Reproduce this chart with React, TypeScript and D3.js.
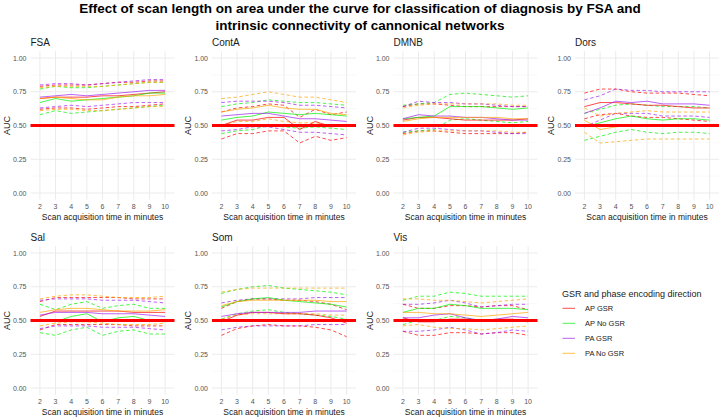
import React from "react";
import * as d3 from "d3";

const minutes = ["2", "3", "4", "5", "6", "7", "8", "9", "10"];
const groups = ["AP GSR", "AP No GSR", "PA GSR", "PA No GSR"];
const groupColors = ["#ff0000", "#00f000", "#a020f0", "#ffa500"];
const networks = ["FSA", "ContA", "DMNB", "Dors", "Sal", "Som", "Vis"];
const yTicks = [0, 0.25, 0.5, 0.75, 1];
const yMinor = [0.125, 0.375, 0.625, 0.875];

// each network: rows in group order (AP GSR, AP No GSR, PA GSR, PA No GSR)
const fsaMean = [
  [0.70, 0.71, 0.71, 0.71, 0.72, 0.72, 0.73, 0.74, 0.75],
  [0.67, 0.70, 0.68, 0.69, 0.70, 0.71, 0.72, 0.74, 0.74],
  [0.71, 0.72, 0.73, 0.72, 0.73, 0.74, 0.75, 0.76, 0.76],
  [0.70, 0.71, 0.70, 0.69, 0.69, 0.71, 0.72, 0.72, 0.73],
];
const fsaUpper = [
  [0.79, 0.80, 0.80, 0.80, 0.81, 0.82, 0.82, 0.83, 0.83],
  [0.77, 0.79, 0.78, 0.78, 0.79, 0.80, 0.81, 0.82, 0.82],
  [0.80, 0.81, 0.81, 0.80, 0.81, 0.82, 0.83, 0.84, 0.84],
  [0.78, 0.79, 0.79, 0.79, 0.79, 0.80, 0.81, 0.82, 0.82],
];
const fsaLower = [
  [0.62, 0.63, 0.63, 0.62, 0.63, 0.64, 0.64, 0.65, 0.66],
  [0.58, 0.61, 0.59, 0.60, 0.61, 0.62, 0.63, 0.64, 0.65],
  [0.63, 0.64, 0.65, 0.64, 0.65, 0.66, 0.67, 0.67, 0.67],
  [0.61, 0.62, 0.62, 0.61, 0.61, 0.62, 0.63, 0.64, 0.64],
];

const contMean = [
  [0.50, 0.54, 0.54, 0.56, 0.56, 0.47, 0.53, 0.49, 0.50],
  [0.54, 0.56, 0.57, 0.60, 0.59, 0.58, 0.59, 0.58, 0.57],
  [0.57, 0.58, 0.59, 0.59, 0.57, 0.55, 0.55, 0.54, 0.53],
  [0.60, 0.62, 0.63, 0.65, 0.63, 0.62, 0.62, 0.59, 0.58],
];
const contUpper = [
  [0.60, 0.63, 0.64, 0.66, 0.65, 0.56, 0.62, 0.58, 0.60],
  [0.64, 0.66, 0.67, 0.69, 0.68, 0.67, 0.67, 0.66, 0.65],
  [0.67, 0.68, 0.68, 0.68, 0.67, 0.65, 0.65, 0.64, 0.63],
  [0.70, 0.71, 0.73, 0.75, 0.73, 0.71, 0.71, 0.69, 0.67],
];
const contLower = [
  [0.40, 0.44, 0.44, 0.46, 0.46, 0.37, 0.42, 0.39, 0.41],
  [0.44, 0.46, 0.47, 0.50, 0.49, 0.48, 0.49, 0.48, 0.47],
  [0.46, 0.47, 0.49, 0.49, 0.47, 0.45, 0.45, 0.44, 0.43],
  [0.50, 0.53, 0.53, 0.55, 0.53, 0.52, 0.52, 0.50, 0.49],
];

const dmnMean = [
  [0.54, 0.56, 0.56, 0.55, 0.54, 0.54, 0.54, 0.54, 0.55],
  [0.55, 0.56, 0.57, 0.64, 0.64, 0.64, 0.63, 0.62, 0.63],
  [0.55, 0.58, 0.57, 0.57, 0.56, 0.56, 0.55, 0.54, 0.54],
  [0.53, 0.55, 0.56, 0.56, 0.56, 0.56, 0.56, 0.55, 0.55],
];
const dmnUpper = [
  [0.64, 0.66, 0.66, 0.65, 0.64, 0.64, 0.64, 0.64, 0.64],
  [0.65, 0.66, 0.67, 0.73, 0.74, 0.73, 0.72, 0.71, 0.72],
  [0.64, 0.68, 0.67, 0.67, 0.66, 0.66, 0.65, 0.64, 0.64],
  [0.63, 0.65, 0.66, 0.66, 0.66, 0.66, 0.66, 0.65, 0.65],
];
const dmnLower = [
  [0.44, 0.46, 0.46, 0.45, 0.44, 0.44, 0.44, 0.44, 0.45],
  [0.45, 0.46, 0.47, 0.54, 0.55, 0.54, 0.53, 0.52, 0.53],
  [0.45, 0.48, 0.48, 0.47, 0.46, 0.46, 0.45, 0.44, 0.44],
  [0.43, 0.45, 0.46, 0.46, 0.46, 0.46, 0.46, 0.45, 0.45],
];

const dorsMean = [
  [0.64, 0.67, 0.67, 0.66, 0.65, 0.65, 0.64, 0.63, 0.63],
  [0.49, 0.52, 0.55, 0.57, 0.55, 0.54, 0.55, 0.55, 0.54],
  [0.59, 0.63, 0.68, 0.67, 0.68, 0.66, 0.66, 0.66, 0.65],
  [0.54, 0.47, 0.49, 0.50, 0.50, 0.50, 0.50, 0.50, 0.50],
];
const dorsUpper = [
  [0.74, 0.77, 0.77, 0.75, 0.74, 0.74, 0.74, 0.73, 0.72],
  [0.59, 0.62, 0.65, 0.66, 0.65, 0.64, 0.64, 0.64, 0.63],
  [0.69, 0.72, 0.77, 0.76, 0.76, 0.75, 0.75, 0.75, 0.75],
  [0.63, 0.57, 0.59, 0.60, 0.61, 0.60, 0.60, 0.60, 0.60],
];
const dorsLower = [
  [0.55, 0.58, 0.59, 0.57, 0.56, 0.56, 0.55, 0.54, 0.53],
  [0.39, 0.42, 0.45, 0.47, 0.45, 0.44, 0.45, 0.45, 0.44],
  [0.49, 0.54, 0.59, 0.59, 0.59, 0.57, 0.57, 0.57, 0.56],
  [0.45, 0.37, 0.38, 0.39, 0.40, 0.40, 0.40, 0.40, 0.40],
];

const salMean = [
  [0.53, 0.57, 0.57, 0.57, 0.57, 0.57, 0.56, 0.56, 0.56],
  [0.51, 0.49, 0.53, 0.55, 0.49, 0.52, 0.53, 0.50, 0.49],
  [0.54, 0.56, 0.56, 0.56, 0.55, 0.55, 0.55, 0.54, 0.53],
  [0.56, 0.58, 0.59, 0.59, 0.58, 0.57, 0.57, 0.57, 0.58],
];
const salUpper = [
  [0.64, 0.67, 0.67, 0.67, 0.67, 0.67, 0.66, 0.66, 0.66],
  [0.62, 0.58, 0.62, 0.64, 0.59, 0.61, 0.62, 0.59, 0.59],
  [0.65, 0.66, 0.66, 0.66, 0.65, 0.65, 0.65, 0.64, 0.63],
  [0.66, 0.68, 0.69, 0.69, 0.68, 0.67, 0.67, 0.67, 0.68],
];
const salLower = [
  [0.43, 0.47, 0.47, 0.47, 0.47, 0.47, 0.46, 0.46, 0.46],
  [0.41, 0.39, 0.43, 0.45, 0.39, 0.42, 0.43, 0.40, 0.40],
  [0.44, 0.46, 0.46, 0.46, 0.45, 0.45, 0.45, 0.44, 0.43],
  [0.46, 0.48, 0.49, 0.49, 0.48, 0.47, 0.47, 0.47, 0.48],
];

const somMean = [
  [0.49, 0.54, 0.56, 0.56, 0.55, 0.55, 0.54, 0.52, 0.48],
  [0.60, 0.64, 0.66, 0.67, 0.65, 0.64, 0.63, 0.62, 0.60],
  [0.53, 0.55, 0.56, 0.56, 0.56, 0.56, 0.57, 0.57, 0.57],
  [0.61, 0.64, 0.65, 0.65, 0.65, 0.65, 0.65, 0.64, 0.64],
];
const somUpper = [
  [0.59, 0.64, 0.66, 0.66, 0.65, 0.65, 0.64, 0.62, 0.58],
  [0.70, 0.73, 0.75, 0.76, 0.74, 0.73, 0.72, 0.71, 0.69],
  [0.63, 0.65, 0.66, 0.66, 0.66, 0.66, 0.67, 0.67, 0.67],
  [0.71, 0.73, 0.74, 0.74, 0.74, 0.74, 0.74, 0.74, 0.74],
];
const somLower = [
  [0.39, 0.44, 0.46, 0.47, 0.46, 0.46, 0.45, 0.43, 0.38],
  [0.51, 0.55, 0.57, 0.58, 0.56, 0.55, 0.54, 0.53, 0.51],
  [0.43, 0.45, 0.46, 0.46, 0.46, 0.46, 0.47, 0.47, 0.47],
  [0.51, 0.54, 0.55, 0.55, 0.55, 0.55, 0.55, 0.54, 0.54],
];

const visMean = [
  [0.52, 0.49, 0.49, 0.51, 0.51, 0.50, 0.51, 0.51, 0.49],
  [0.56, 0.59, 0.59, 0.62, 0.61, 0.59, 0.59, 0.59, 0.58],
  [0.52, 0.52, 0.54, 0.55, 0.52, 0.50, 0.51, 0.53, 0.52],
  [0.56, 0.56, 0.55, 0.55, 0.54, 0.53, 0.54, 0.55, 0.56],
];
const visUpper = [
  [0.62, 0.59, 0.59, 0.61, 0.61, 0.60, 0.61, 0.61, 0.58],
  [0.65, 0.68, 0.68, 0.71, 0.70, 0.68, 0.68, 0.68, 0.68],
  [0.62, 0.62, 0.63, 0.65, 0.63, 0.60, 0.61, 0.62, 0.62],
  [0.66, 0.66, 0.65, 0.65, 0.64, 0.63, 0.64, 0.65, 0.66],
];
const visLower = [
  [0.42, 0.39, 0.39, 0.41, 0.41, 0.40, 0.41, 0.41, 0.39],
  [0.47, 0.50, 0.50, 0.53, 0.52, 0.50, 0.50, 0.50, 0.49],
  [0.42, 0.42, 0.43, 0.45, 0.43, 0.40, 0.41, 0.43, 0.42],
  [0.46, 0.47, 0.45, 0.44, 0.44, 0.43, 0.44, 0.45, 0.46],
];

const meanByNet = [fsaMean, contMean, dmnMean, dorsMean, salMean, somMean, visMean];
const upperByNet = [fsaUpper, contUpper, dmnUpper, dorsUpper, salUpper, somUpper, visUpper];
const lowerByNet = [fsaLower, contLower, dmnLower, dorsLower, salLower, somLower, visLower];

const W = 720,
  H = 417;
const colLeft = [30.5, 212, 393.5, 575];
const panelW = 144;
const rowRange = [
  [199.75, 51.25],
  [394.75, 246.25],
];
const font = "Liberation Sans, Arial, sans-serif";

const Panel = ({ idx }: { idx: number }) => {
  const col = idx % 4;
  const row = Math.floor(idx / 4);
  const left = colLeft[col];
  const x = d3
    .scalePoint()
    .domain(minutes)
    .range([left, left + panelW])
    .padding(0.6);
  const y = d3.scaleLinear().domain([-0.05, 1.05]).range(rowRange[row]);
  const top = rowRange[row][1],
    bottom = rowRange[row][0];
  const line = d3
    .line<number>()
    .x((_, i) => x(minutes[i]) as number)
    .y((d) => y(d));

  const solid = meanByNet[idx];
  const upper = upperByNet[idx];
  const lower = lowerByNet[idx];

  return (
    <g>
      {yMinor.map((t) => (
        <line key={"m" + t} x1={left} x2={left + panelW} y1={y(t)} y2={y(t)} stroke="#f2f2f2" strokeWidth={0.5} />
      ))}
      {yTicks.map((t) => (
        <line key={"y" + t} x1={left} x2={left + panelW} y1={y(t)} y2={y(t)} stroke="#ebebeb" strokeWidth={1} />
      ))}
      {minutes.map((m) => (
        <line key={"x" + m} x1={x(m)} x2={x(m)} y1={top} y2={bottom} stroke="#ebebeb" strokeWidth={1} />
      ))}
      {[lower, upper].map((set, k) =>
        set.map((vals, g) => (
          <path
            key={"d" + k + g}
            d={line(vals) || ""}
            fill="none"
            stroke={groupColors[g]}
            strokeOpacity={0.7}
            strokeWidth={1}
            strokeDasharray="3.5,2.5"
          />
        ))
      )}
      {solid.map((vals, g) => (
        <path key={"s" + g} d={line(vals) || ""} fill="none" stroke={groupColors[g]} strokeOpacity={0.7} strokeWidth={1} />
      ))}
      <line x1={left} x2={left + panelW} y1={y(0.5)} y2={y(0.5)} stroke="#ff0000" strokeWidth={3.2} />
      {yTicks.map((t) => (
        <text key={"yl" + t} x={left - 4} y={y(t) + 2.5} textAnchor="end" fontSize={7} fill="#555" fontFamily={font}>
          {d3.format(".2f")(t)}
        </text>
      ))}
      {minutes.map((m) => (
        <text key={"xl" + m} x={x(m)} y={bottom + 9.5} textAnchor="middle" fontSize={7} fill="#555" fontFamily={font}>
          {m}
        </text>
      ))}
      <text
        x={left + panelW / 2}
        y={bottom + 20.5}
        textAnchor="middle"
        fontSize={8.5}
        fill="#1a1a1a"
        fontFamily={font}
      >
        Scan acquisition time in minutes
      </text>
      <text
        transform={`translate(${left - 21},${y(0.5)}) rotate(-90)`}
        textAnchor="middle"
        fontSize={9}
        fill="#1a1a1a"
        fontFamily={font}
      >
        AUC
      </text>
      <text x={left} y={top - 5.5} fontSize={10} fill="#1a1a1a" fontFamily={font}>
        {networks[idx]}
      </text>
    </g>
  );
};

const App = () => {
  const legendY = d3.scalePoint().domain(groups).range([308.3, 353.3]);
  return (
    <svg width={W} height={H} style={{ position: "absolute", left: 0, top: 0, background: "#fff" }}>
      <rect width={W} height={H} fill="#fff" />
      <text x={360} y={13} textAnchor="middle" fontSize={13.5} fontWeight="bold" fill="#000" fontFamily={font}>
        Effect of scan length on area under the curve for classification of diagnosis by FSA and
      </text>
      <text x={360} y={30} textAnchor="middle" fontSize={13.5} fontWeight="bold" fill="#000" fontFamily={font}>
        intrinsic connectivity of cannonical networks
      </text>
      {networks.map((n, i) => (
        <Panel key={n} idx={i} />
      ))}
      <text x={562} y={296.5} fontSize={9} fill="#1a1a1a" fontFamily={font}>
        GSR and phase encoding direction
      </text>
      {groups.map((g, i) => (
        <g key={g}>
          <line
            x1={562.5}
            x2={575}
            y1={legendY(g)}
            y2={legendY(g)}
            stroke={groupColors[i]}
            strokeOpacity={0.7}
            strokeWidth={1}
          />
          <text x={585} y={(legendY(g) as number) + 2.6} fontSize={7.5} fill="#1a1a1a" fontFamily={font}>
            {g}
          </text>
        </g>
      ))}
    </svg>
  );
};

export default App;
